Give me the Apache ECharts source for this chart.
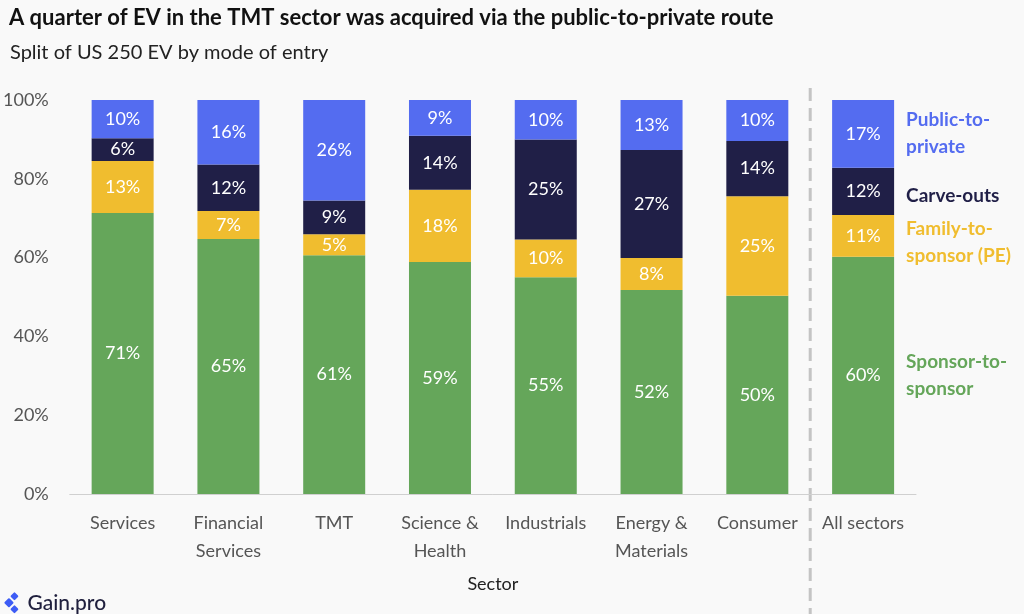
<!DOCTYPE html>
<html>
<head>
<meta charset="utf-8">
<script src="https://cdn.jsdelivr.net/npm/echarts@6/dist/echarts.min.js"></script>
<style>
  html, body { margin: 0; padding: 0; background: #f9f9f9; }
  #main { width: 1024px; height: 614px; }
</style>
</head>
<body>
<div id="main"></div>
<script>
// sectors on the x axis
var sectors = ['Services', 'Financial\nServices', 'TMT', 'Science &\nHealth', 'Industrials', 'Energy &\nMaterials', 'Consumer', 'All sectors']

// share of EV per mode of entry (%)
var sponsorToSponsor = [71.3, 64.7, 60.6, 58.9, 55.0, 51.8, 50.3, 60.2]
var familyToSponsor  = [13.2, 7.1, 5.3, 18.3, 9.6, 8.1, 25.3, 10.6]
var carveOuts        = [5.8, 11.8, 8.6, 13.7, 25.4, 27.4, 14.0, 12.0]
var publicToPrivate  = [9.7, 16.4, 25.5, 9.1, 10.0, 12.7, 10.4, 17.2]

var yTicks = [0, 20, 40, 60, 80, 100]

var font = 'Lato'

function lastMid(stackBelow, vals) {
  var i = vals.length - 1
  return stackBelow[i] + vals[i] / 2
}

function makeSeries(name, vals, color, below, legendName, legendOffset) {
  return {
    name: name,
    type: 'bar',
    stack: 'all',
    data: vals,
    barWidth: 62,
    itemStyle: { color: color },
    label: {
      show: true,
      position: 'inside',
      color: '#fff',
      fontFamily: font,
      fontSize: 18,
      formatter: function (p) { return Math.round(p.value) + '%' }
    },
    markPoint: {
      symbol: 'rect',
      symbolSize: 1,
      itemStyle: { color: 'transparent' },
      data: [{ coord: [sectors.length - 1, lastMid(below, vals)] }],
      label: {
        show: true,
        position: 'inside',
        align: 'left',
        offset: [43, legendOffset],
        color: color,
        fontFamily: font,
        fontWeight: 'bold',
        fontSize: 19,
        lineHeight: 27,
        formatter: legendName
      }
    }
  }
}

var zero = sectors.map(function () { return 0 })
var c1 = sponsorToSponsor
var c2 = c1.map(function (v, i) { return v + familyToSponsor[i] })
var c3 = c2.map(function (v, i) { return v + carveOuts[i] })

var myChart = echarts.init(document.getElementById('main'))
var option = {
  backgroundColor: '#f9f9f9',
  animation: false,
  textStyle: { fontFamily: font },
  title: [
    {
      text: 'A quarter of EV in the TMT sector was acquired via the public-to-private route',
      left: 4, top: 2,
      textStyle: { fontFamily: font, fontWeight: 'bold', fontSize: 22, color: '#111' }
    },
    {
      text: 'Split of US 250 EV by mode of entry',
      left: 5, top: 38,
      textStyle: { fontFamily: font, fontWeight: 'normal', fontSize: 20, color: '#222' }
    }
  ],
  grid: { left: 69, right: 108, top: 100, bottom: 120 },
  xAxis: {
    type: 'category',
    data: sectors,
    name: 'Sector',
    nameLocation: 'middle',
    nameGap: 81,
    nameTextStyle: { fontFamily: font, fontSize: 18, color: '#222' },
    axisTick: { show: false },
    axisLine: { lineStyle: { color: '#d0d0d0', width: 1 } },
    axisLabel: { color: '#555', fontFamily: font, fontSize: 18, lineHeight: 28, margin: 15, interval: 0 }
  },
  yAxis: {
    type: 'value',
    min: yTicks[0],
    max: yTicks[yTicks.length - 1],
    interval: 20,
    splitLine: { show: false },
    axisLabel: { color: '#555', fontFamily: font, fontSize: 18, margin: 21, formatter: '{value}%' }
  },
  series: [
    makeSeries('Sponsor-to-sponsor', sponsorToSponsor, '#65a65a', zero, 'Sponsor-to-\nsponsor', 0),
    makeSeries('Family-to-sponsor (PE)', familyToSponsor, '#f0bd2f', c1, 'Family-to-\nsponsor (PE)', 6),
    makeSeries('Carve-outs', carveOuts, '#201f47', c2, 'Carve-outs', 4),
    makeSeries('Public-to-private', publicToPrivate, '#546cf0', c3, 'Public-to-\nprivate', -1)
  ]
}
myChart.setOption(option)

// dashed divider between the sectors and the total, placed through the axis scale
var xa = myChart.convertToPixel({ xAxisIndex: 0 }, sectors[sectors.length - 2])
var xb = myChart.convertToPixel({ xAxisIndex: 0 }, sectors[sectors.length - 1])
var xm = (xa + xb) / 2
myChart.setOption({
  graphic: [
    {
      type: 'line',
      shape: { x1: xm, y1: 88, x2: xm, y2: 614 },
      style: { stroke: '#c4c4c4', lineWidth: 3, lineDash: [13, 7] },
      z: 0
    },
    {
      type: 'group',
      left: 4, top: 592,
      children: [
        { type: 'rect', shape: { x: 0, y: 6, width: 7, height: 7, r: 1 }, rotation: Math.PI / 4, originX: 3.5, originY: 9.5, style: { fill: '#3d5cf5' } },
        { type: 'rect', shape: { x: 6, y: 0, width: 6, height: 6, r: 1 }, rotation: Math.PI / 4, originX: 9, originY: 3, style: { fill: '#3d5cf5' } },
        { type: 'rect', shape: { x: 6, y: 13, width: 6, height: 6, r: 1 }, rotation: Math.PI / 4, originX: 9, originY: 16, style: { fill: '#3d5cf5' } },
        { type: 'text', left: 22, top: -1, style: { text: 'Gain.pro', fill: '#1f1f3d', font: '500 21px Lato' } }
      ]
    }
  ]
})
</script>
</body>
</html>
